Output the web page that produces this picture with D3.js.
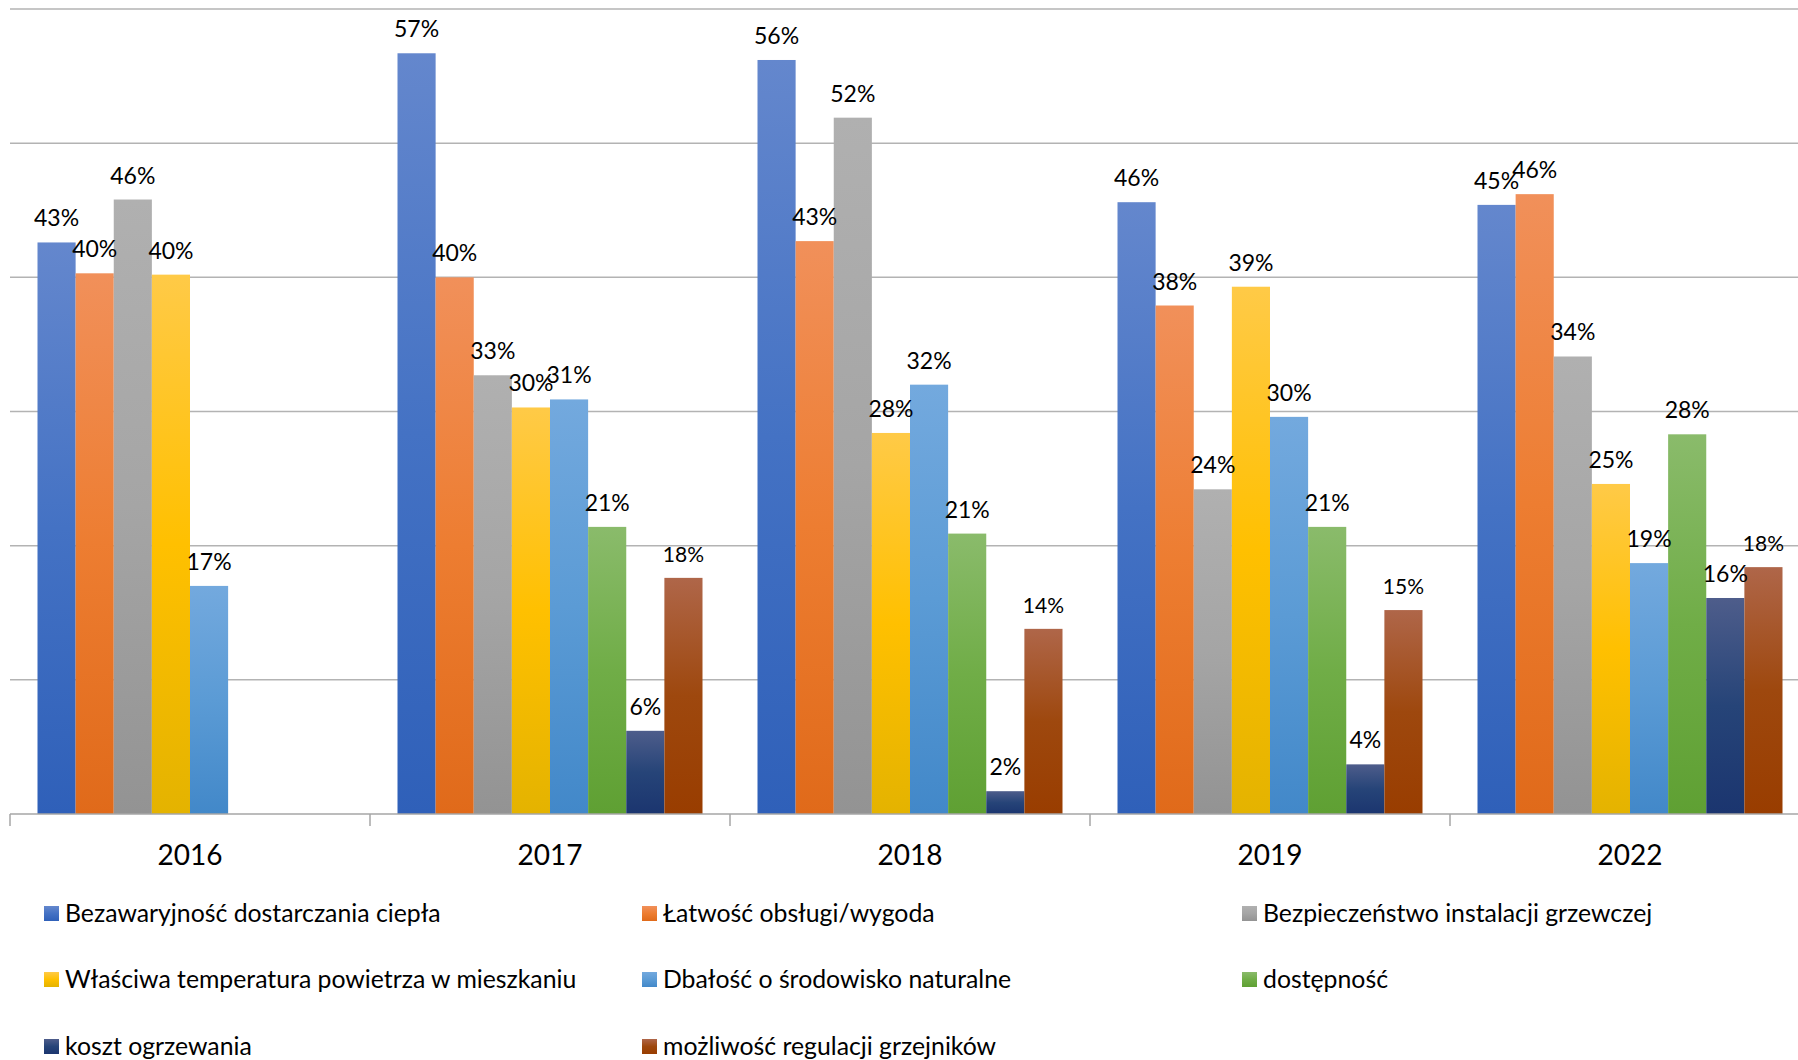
<!DOCTYPE html>
<html lang="pl">
<head>
    <meta charset="UTF-8">
    <title>Czynniki wyboru ogrzewania</title>
    <script src="https://d3js.org/d3.v7.min.js"></script>
    <style>
        body { margin: 0; background: #fff; }
        svg { display: block; font-family: Lato, 'Open Sans', sans-serif; }
    </style>
</head>
<body>
<div id="chart"></div>
<script>
    // categories
    const years = ['2016', '2017', '2018', '2019', '2022'];

    // series names (legend order)
    const seriesNames = [
        'Bezawaryjność dostarczania ciepła',
        'Łatwość obsługi/wygoda',
        'Bezpieczeństwo instalacji grzewczej',
        'Właściwa temperatura powietrza w mieszkaniu',
        'Dbałość o środowisko naturalne',
        'dostępność',
        'koszt ogrzewania',
        'możliwość regulacji grzejników'
    ];

    // values in %, one array per series, ordered like years (null = no data)
    const bezawaryjnosc = [42.6, 56.7, 56.2, 45.6, 45.4];
    const latwosc       = [40.3, 40.0, 42.7, 37.9, 46.2];
    const bezpieczenstwo = [45.8, 32.7, 51.9, 24.2, 34.1];
    const temperatura   = [40.2, 30.3, 28.4, 39.3, 24.6];
    const srodowisko    = [17.0, 30.9, 32.0, 29.6, 18.7];
    const dostepnosc    = [null, 21.4, 20.9, 21.4, 28.3];
    const koszt         = [null, 6.2, 1.7, 3.7, 16.1];
    const regulacja     = [null, 17.6, 13.8, 15.2, 18.4];

    const seriesValues = [bezawaryjnosc, latwosc, bezpieczenstwo, temperatura,
        srodowisko, dostepnosc, koszt, regulacja];

    // gradient stops per series: top, middle, bottom
    const colors = [
        ['#6487cd', '#4472c4', '#2f60b9'],
        ['#f1905a', '#ed7d31', '#e06a1a'],
        ['#b0b0b0', '#a5a5a5', '#939393'],
        ['#ffca47', '#ffc000', '#e4b300'],
        ['#73a9de', '#5b9bd5', '#4288c9'],
        ['#8abb6b', '#70ad47', '#5fa033'],
        ['#4e5d8b', '#264478', '#1b356f'],
        ['#af6649', '#9e480e', '#993d00']
    ];

    const width = 1798, height = 1060;
    const baseY = 814, topY = 9;

    const svg = d3.select('#chart')
        .append('svg')
        .attr('width', width)
        .attr('height', height);

    // gradients
    const defs = svg.append('defs');
    colors.forEach((c, i) => {
        const g = defs.append('linearGradient')
            .attr('id', 'grad' + i)
            .attr('x1', 0).attr('y1', 0).attr('x2', 0).attr('y2', 1);
        g.append('stop').attr('offset', '0%').attr('stop-color', c[0]);
        g.append('stop').attr('offset', '50%').attr('stop-color', c[1]);
        g.append('stop').attr('offset', '100%').attr('stop-color', c[2]);
    });

    // scales
    const x0 = d3.scaleBand()
        .domain(years)
        .range([10, 10 + 360 * years.length])
        .padding(0);

    const gap = 27.5;
    const x1 = d3.scaleBand()
        .domain(d3.range(seriesNames.length))
        .range([gap, x0.bandwidth() - gap])
        .padding(0);

    const y = d3.scaleLinear()
        .domain([0, 60])
        .range([baseY, topY]);

    // gridlines
    svg.append('g')
        .selectAll('line')
        .data(y.ticks(6).filter(d => d > 0))
        .join('line')
        .attr('x1', 10)
        .attr('x2', width)
        .attr('y1', d => y(d))
        .attr('y2', d => y(d))
        .attr('stroke', '#b3b3b3')
        .attr('stroke-width', 1.5);

    // bars
    const groups = svg.append('g')
        .selectAll('g')
        .data(years)
        .join('g')
        .attr('transform', d => `translate(${x0(d)},0)`);

    const barData = (yr, yi) => seriesValues
        .map((vals, si) => ({ si, v: vals[yi] }))
        .filter(d => d.v !== null);

    groups.selectAll('rect')
        .data((d, i) => barData(d, i))
        .join('rect')
        .attr('x', d => x1(d.si))
        .attr('y', d => y(d.v))
        .attr('width', x1.bandwidth())
        .attr('height', d => baseY - y(d.v))
        .attr('fill', d => `url(#grad${d.si})`);

    // data labels (brown series uses a smaller font, as in the original)
    groups.selectAll('text')
        .data((d, i) => barData(d, i))
        .join('text')
        .attr('x', d => x1(d.si) + x1.bandwidth() / 2)
        .attr('y', d => y(d.v) - 16)
        .attr('text-anchor', 'middle')
        .attr('font-size', d => d.si === 7 ? 21 : 23)
        .attr('fill', '#000')
        .text(d => Math.round(d.v) + '%');

    // x axis
    const xAxis = svg.append('g');
    xAxis.append('line')
        .attr('x1', 10).attr('x2', width)
        .attr('y1', baseY).attr('y2', baseY)
        .attr('stroke', '#a6a6a6')
        .attr('stroke-width', 1.5);

    xAxis.selectAll('.tick')
        .data(years)
        .join('line')
        .attr('class', 'tick')
        .attr('x1', d => x0(d)).attr('x2', d => x0(d))
        .attr('y1', baseY).attr('y2', baseY + 12)
        .attr('stroke', '#a6a6a6')
        .attr('stroke-width', 1.5);

    xAxis.selectAll('.label')
        .data(years)
        .join('text')
        .attr('class', 'label')
        .attr('x', d => x0(d) + x0.bandwidth() / 2)
        .attr('y', 865)
        .attr('text-anchor', 'middle')
        .attr('font-size', 28)
        .attr('fill', '#000')
        .text(d => d);

    // legend
    const colX = [44, 642, 1242];
    const rowY = [913, 979, 1046];

    const legend = svg.append('g')
        .selectAll('g')
        .data(seriesNames)
        .join('g')
        .attr('transform', (d, i) => `translate(${colX[i % 3]},${rowY[Math.floor(i / 3)]})`);

    legend.append('rect')
        .attr('x', 0)
        .attr('y', -7)
        .attr('width', 15)
        .attr('height', 15)
        .attr('fill', (d, i) => `url(#grad${i})`);

    legend.append('text')
        .attr('x', 21)
        .attr('y', 8.5)
        .attr('font-size', 24.8)
        .attr('fill', '#000')
        .text(d => d);
</script>
</body>
</html>
